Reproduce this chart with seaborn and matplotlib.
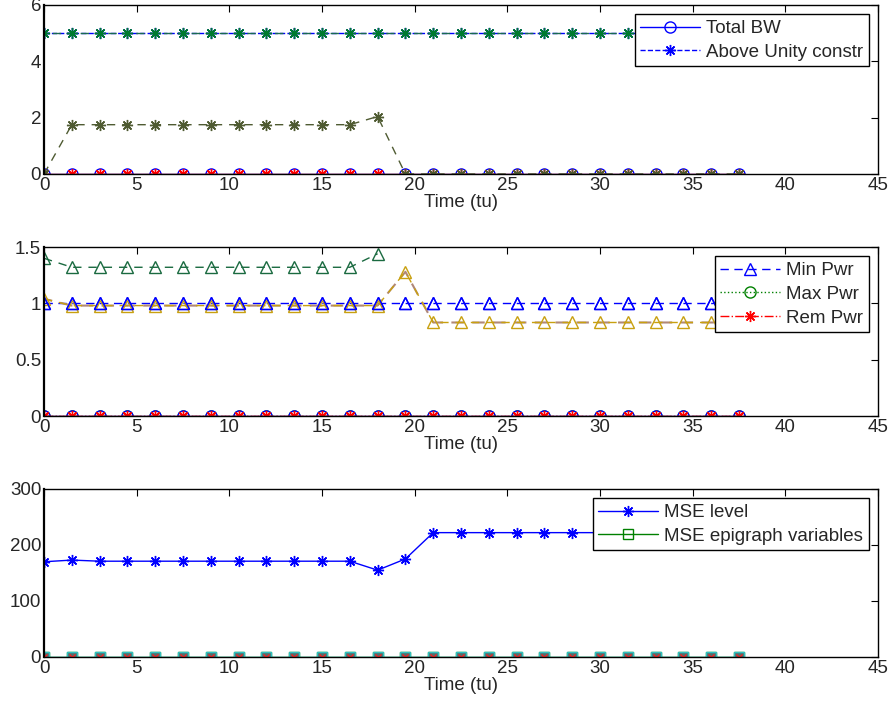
"""Recreate three-panel MATLAB-style time series figure."""

import matplotlib
matplotlib.use("Agg")
import matplotlib.pyplot as plt
import seaborn as sns

# time axis (tu)
time_tu = [0, 1.5, 3, 4.5, 6, 7.5, 9, 10.5, 12, 13.5, 15, 16.5, 18,
           19.5, 21, 22.5, 24, 25.5, 27, 28.5, 30, 31.5, 33, 34.5, 36, 37.5]
zeros = [0] * 26

# top panel
total_bw = zeros
above_unity = [5] * 26
bw_alloc = [0, 1.75, 1.75, 1.75, 1.75, 1.75, 1.75, 1.75, 1.75, 1.75, 1.75, 1.75, 2.04,
            0, 0, 0, 0, 0, 0, 0, 0, 0, 0, 0, 0, 0]

# middle panel
min_pwr = [1.0] * 26
max_pwr = zeros
rem_pwr = zeros
pwr_a_time = time_tu[:13]
pwr_a = [1.40, 1.32, 1.32, 1.32, 1.32, 1.32, 1.32, 1.32, 1.32, 1.32, 1.32, 1.32, 1.44]
pwr_b = [1.04, 0.98, 0.98, 0.98, 0.98, 0.98, 0.98, 0.98, 0.98, 0.98, 0.98, 0.98, 0.98,
         1.28, 0.83, 0.83, 0.83, 0.83, 0.83, 0.83, 0.83, 0.83, 0.83, 0.83, 0.83, 0.83]

# bottom panel
mse_level = [170, 173, 171, 171, 171, 171, 171, 171, 171, 171, 171, 171, 155,
             175, 222, 222, 222, 222, 222, 222, 222, 222, 222, 222, 222, 222]
mse_epi = zeros

sns.set_theme(style="white")
plt.rcParams["font.family"] = ["Liberation Sans", "DejaVu Sans"]
plt.rcParams["xtick.direction"] = "in"
plt.rcParams["ytick.direction"] = "in"

STAR = (8, 2, 0)
FS = 13.5


def line(ax, x, y, color, marker, ls="-", ms=8, mfc="none", mec=None, label=None, lw=1.0):
    sns.lineplot(x=x, y=y, ax=ax, color=color, marker=marker, linestyle=ls, lw=lw,
                 markersize=ms, mfc=mfc, mec=mec or color, mew=1.0, label=label,
                 legend=False, sort=False)


def style_axes(ax, ylim, yticks, ylabels):
    ax.set_xlim(0, 45)
    ax.set_ylim(*ylim)
    ax.set_xticks(range(0, 50, 5))
    ax.set_yticks(yticks)
    ax.set_yticklabels(ylabels)
    ax.tick_params(axis="both", which="both", top=True, right=True, direction="in",
                   length=5, width=0.8, color="black", labelsize=FS, pad=2)
    for s in ax.spines.values():
        s.set_color("black")
        s.set_linewidth(1.0)
    ax.spines["left"].set_linewidth(1.6)
    ax.set_xlabel("Time (tu)", fontsize=FS, labelpad=0)
    ax.set_ylabel("")


def add_legend(ax):
    leg = ax.legend(loc="upper right", fontsize=FS, frameon=True, fancybox=False,
                    framealpha=1, edgecolor="black", handlelength=3.2,
                    borderaxespad=0.5, borderpad=0.3, labelspacing=0.35, handletextpad=0.3)
    leg.get_frame().set_linewidth(1.0)


fig = plt.figure(figsize=(8.91, 7.11), dpi=100)
ax1 = fig.add_axes([0.0494, 0.7553, 0.936, 0.2377])
ax2 = fig.add_axes([0.0494, 0.4149, 0.936, 0.2377])
ax3 = fig.add_axes([0.0494, 0.0760, 0.936, 0.2363])

# top
line(ax1, time_tu, total_bw, "#0000ff", "o", label="Total BW")
line(ax1, time_tu, above_unity, "#0000ff", STAR, ls="--", label="Above Unity constr")
line(ax1, time_tu, above_unity, "#1a6a50", STAR, ls=(4, (6, 4)), mec="#007a30")
line(ax1, time_tu, zeros, "#e02000", STAR, mec="#ff0000")
line(ax1, time_tu, bw_alloc, "#4f5b32", STAR, ls=(0, (6, 5)))
style_axes(ax1, (0, 6), [0, 2, 4, 6], ["0", "2", "4", "6"])
add_legend(ax1)

# middle
line(ax2, time_tu, min_pwr, "#0000ff", "^", ls=(0, (6, 4)), ms=9, label="Min Pwr")
line(ax2, time_tu, max_pwr, "#008000", "o", ls=":", label="Max Pwr")
line(ax2, time_tu, zeros, "#0000ff", "o")
line(ax2, time_tu, rem_pwr, "#ff0000", STAR, ls="-.", label="Rem Pwr")
line(ax2, time_tu, zeros, "#a02020", None)
line(ax2, pwr_a_time, pwr_a, "#1a6a40", "^", ls=(0, (6, 5)), ms=9)
line(ax2, time_tu, pwr_b, "#b08878", None, ls=(2, (6, 4)), lw=1.5)
line(ax2, time_tu, pwr_b, "#c8a010", "^", ls=(0, (6, 5)), ms=9)
line(ax2, time_tu, min_pwr, "#0000ff", "^", ls="none", ms=9)
style_axes(ax2, (0, 1.5), [0, 0.5, 1, 1.5], ["0", "0.5", "1", "1.5"])
add_legend(ax2)

# bottom
line(ax3, time_tu, mse_level, "#0000ff", STAR, label="MSE level")
line(ax3, time_tu, mse_epi, "#008000", "s", ms=7, label="MSE epigraph variables")
line(ax3, time_tu, mse_epi, "#00b0b0", "s", ms=7, mfc="#507070", mec="#30c0c0")
line(ax3, time_tu, mse_epi, "#208080", "x", ls="none", ms=5, mec="#ff2020")
style_axes(ax3, (0, 300), [0, 100, 200, 300], ["0", "100", "200", "300"])
add_legend(ax3)

fig.savefig("out.png", dpi=100)
